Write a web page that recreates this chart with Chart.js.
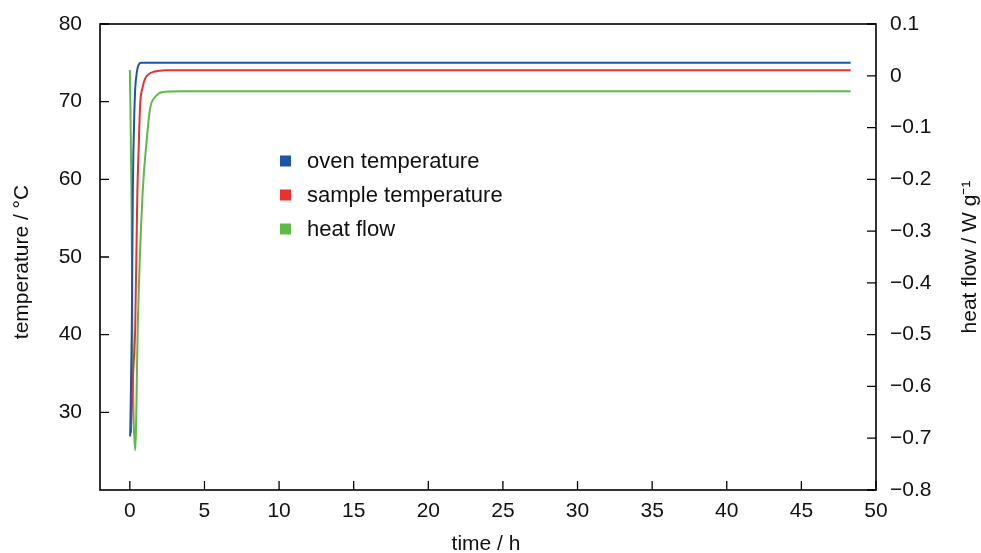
<!DOCTYPE html>
<html>
<head>
<meta charset="utf-8">
<title>oven / sample temperature and heat flow</title>
<script src="https://cdn.jsdelivr.net/npm/chart.js@4/dist/chart.umd.min.js"></script>
<style>
  html, body { margin: 0; padding: 0; background: #fff; }
  #wrap { width: 981px; height: 553px; position: relative; }
</style>
</head>
<body>
<div id="wrap"><canvas id="chart"></canvas></div>
<script>
// Data (time in h)
const ovenTime = [0.02, 0.13, 0.20, 0.24, 0.30, 0.36, 0.47, 0.58, 0.74, 1.0, 48.3];
const ovenTemp = [26.9, 40.6, 58.6, 63.8, 68.5, 71.7, 73.8, 74.7, 75.0, 75.0, 75.0];

const sampleTime = [0.07, 0.22, 0.36, 0.50, 0.60, 0.69, 0.85, 1.03, 1.30, 1.59, 2.37, 48.3];
const sampleTemp = [27.3, 35.0, 41.0, 58.0, 64.5, 69.6, 71.8, 73.0, 73.6, 73.85, 74.05, 74.05];

const heatTime = [0.0, 0.11, 0.17, 0.36, 0.54, 0.85, 1.14, 1.36, 1.70, 2.14, 3.37, 48.3];
const heatFlow = [0.011, -0.23, -0.49, -0.723, -0.472, -0.23, -0.121, -0.063, -0.041, -0.032, -0.030, -0.030];

const timeTicks = [0, 5, 10, 15, 20, 25, 30, 35, 40, 45, 50];
const tempTicks = [30, 40, 50, 60, 70, 80];
const heatTicks = [0.1, 0, -0.1, -0.2, -0.3, -0.4, -0.5, -0.6, -0.7, -0.8];

const seriesNames = ["oven temperature", "sample temperature", "heat flow"];
const seriesColors = ["#1b55a5", "#ec2f2f", "#5dba45"];

const FONT = "'Liberation Sans', Arial, sans-serif";

function toPoints(xs, ys) {
  return xs.map((x, i) => ({ x: x, y: ys[i] }));
}

// box round the plot, inward tick marks, titles, legend
const framePlugin = {
  id: "frame",
  afterDraw(chart) {
    const { ctx, chartArea: a, scales } = chart;
    ctx.save();
    ctx.strokeStyle = "#000";
    ctx.lineWidth = 1.6;
    ctx.strokeRect(a.left, a.top, a.right - a.left, a.bottom - a.top);

    const len = 9;
    ctx.beginPath();
    scales.x.ticks.forEach(t => {
      const px = scales.x.getPixelForValue(t.value);
      ctx.moveTo(px, a.bottom);
      ctx.lineTo(px, a.bottom - len);
    });
    scales.y.ticks.forEach(t => {
      const py = scales.y.getPixelForValue(t.value);
      ctx.moveTo(a.left, py);
      ctx.lineTo(a.left + len, py);
    });
    scales.y1.ticks.forEach(t => {
      const py = scales.y1.getPixelForValue(t.value);
      ctx.moveTo(a.right, py);
      ctx.lineTo(a.right - len, py);
    });
    ctx.lineWidth = 1.3;
    ctx.stroke();

    // axis titles
    ctx.fillStyle = "#111";
    ctx.font = "21px " + FONT;
    ctx.textAlign = "center";
    ctx.textBaseline = "middle";
    const midY = (a.top + a.bottom) / 2;

    ctx.save();
    ctx.translate(22, midY + 5);
    ctx.rotate(-Math.PI / 2);
    ctx.fillText("temperature / °C", 0, 0);
    ctx.restore();

    ctx.save();
    ctx.translate(970, midY);
    ctx.rotate(-Math.PI / 2);
    ctx.fillText("heat flow / W g⁻¹", 0, 0);
    ctx.restore();

    ctx.fillText("time / h", (a.left + a.right) / 2 - 2, 544);

    // legend inside the plot
    ctx.font = "22px " + FONT;
    ctx.textAlign = "left";
    chart.data.datasets.forEach((ds, i) => {
      const cy = 161 + i * 34;
      ctx.fillStyle = ds.borderColor;
      ctx.fillRect(280, cy - 5.5, 11, 11);
      ctx.fillStyle = "#111";
      ctx.fillText(ds.label, 307, cy + 1);
    });
    ctx.restore();
  }
};

new Chart(document.getElementById("chart"), {
  type: "line",
  data: {
    datasets: [
      {
        label: seriesNames[0],
        data: toPoints(ovenTime, ovenTemp),
        borderColor: seriesColors[0],
        yAxisID: "y"
      },
      {
        label: seriesNames[1],
        data: toPoints(sampleTime, sampleTemp),
        borderColor: seriesColors[1],
        yAxisID: "y"
      },
      {
        label: seriesNames[2],
        data: toPoints(heatTime, heatFlow),
        borderColor: seriesColors[2],
        yAxisID: "y1"
      }
    ]
  },
  options: {
    responsive: true,
    maintainAspectRatio: false,
    animation: false,
    layout: { padding: { top: 24, left: 0, right: 0, bottom: 0 } },
    elements: {
      point: { radius: 0 },
      line: { borderWidth: 2, cubicInterpolationMode: "monotone", fill: false }
    },
    plugins: {
      legend: { display: false },
      tooltip: { enabled: false }
    },
    scales: {
      x: {
        type: "linear",
        min: -2,
        max: 50,
        afterBuildTicks: s => { s.ticks = timeTicks.map(v => ({ value: v })); },
        afterFit: s => { s.height = 63; s.paddingLeft = 0; s.paddingRight = 0; },
        grid: { display: false, drawTicks: false },
        border: { display: false },
        ticks: { color: "#111", padding: 9, font: { family: FONT, size: 21 }, maxRotation: 0 }
      },
      y: {
        position: "left",
        min: 20,
        max: 80,
        afterBuildTicks: s => { s.ticks = tempTicks.map(v => ({ value: v })); },
        afterFit: s => { s.width = 100; s.paddingTop = 0; s.paddingBottom = 0; },
        grid: { display: false, drawTicks: false },
        border: { display: false },
        ticks: { color: "#111", padding: 18, font: { family: FONT, size: 21 } }
      },
      y1: {
        position: "right",
        min: -0.8,
        max: 0.1,
        afterBuildTicks: s => { s.ticks = heatTicks.map(v => ({ value: v })); },
        afterFit: s => { s.width = 105; s.paddingTop = 0; s.paddingBottom = 0; },
        grid: { display: false, drawTicks: false },
        border: { display: false },
        ticks: {
          color: "#111",
          padding: 14,
          font: { family: FONT, size: 21 },
          callback: v => (v < 0 ? "−" + String(Math.abs(v)) : String(v))
        }
      }
    }
  },
  plugins: [framePlugin]
});
</script>
</body>
</html>
